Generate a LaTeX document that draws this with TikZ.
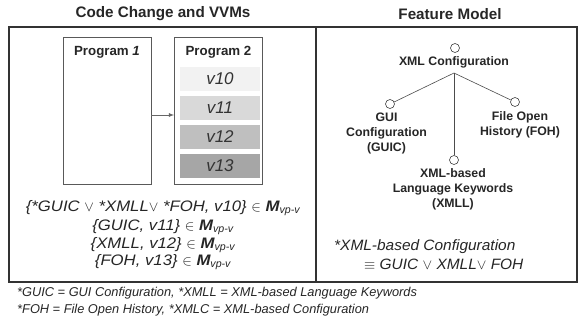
\documentclass[tikz,border=0pt]{standalone}
\usepackage{fontspec}
\setmainfont{Liberation Sans}
\begin{document}
\begin{tikzpicture}[x=1pt,y=-1pt,
  title/.style={font=\fontsize{15.2}{17}\selectfont\bfseries, text=black!85, inner sep=0},
  panel/.style={draw=black!80, line width=1.6pt},
  progbox/.style={draw=black!65, line width=0.8pt, minimum width=88pt, minimum height=147pt, inner sep=0},
  progtitle/.style={font=\fontsize{13.3}{16}\selectfont\bfseries, text=black!85, inner sep=0},
  vbox/.style={minimum width=80pt, minimum height=24pt, inner sep=0, font=\fontsize{17}{19}\selectfont\itshape, text=black!80},
  arr/.style={->, >=latex, draw=black!60, line width=0.8pt},
  formula/.style={font=\fontsize{15.2}{18}\selectfont\addfontfeature{FakeStretch=1.1}\itshape, text=black!85, inner sep=0, anchor=base},
  xform/.style={font=\fontsize{15}{18}\selectfont\addfontfeature{FakeStretch=1.03}\itshape, text=black!85, inner sep=0, anchor=base west},
  feat/.style={circle, draw=black!75, line width=0.6pt, minimum size=9pt, inner sep=0},
  flabel/.style={font=\fontsize{12.3}{15}\selectfont\bfseries, text=black!85, inner sep=0, align=center},
  fline/.style={draw=black!70, line width=0.6pt},
  note/.style={font=\fontsize{12.8}{15}\selectfont\itshape, text=black!85, inner sep=0, anchor=west}
]
\useasboundingbox (0,0) rectangle (582,322);
\fill[white] (0,0) rectangle (582,322);

% titles
\node[title] (t1) at (163,14) {Code Change and VVMs};
\node[title] (t2) at (450,14) {Feature Model};

% panels
\draw[panel] (9,27) rectangle (577,282);
\draw[panel] (316,27) -- (316,282);

% programs
\node[progbox] (p1) at (107,110.5) {};
\node[progbox] (p2) at (218.5,110.5) {};
\node[progtitle] (p1t) at (107,52) {Program \textit{1}};
\node[progtitle] (p2t) at (218.5,52) {Program 2};
\node[vbox, fill=black!5]  (v10) at (220,79) {v10};
\node[vbox, fill=black!15] (v11) at (220,108) {v11};
\node[vbox, fill=black!25] (v12) at (220,137) {v12};
\node[vbox, fill=black!35] (v13) at (220,165.5) {v13};
\draw[arr] ([yshift=-4.5pt]p1.east) -- ([yshift=-4.5pt]p2.west);

% formulas
\newcommand{\Mvp}{\textbf{\textit{M}}\textsubscript{\normalfont\itshape vp-v}}
\node[formula] (f1) at (163,211.5) {\{*GUIC $\vee$ *XMLL$\vee$ *FOH, v10\} $\in$ \Mvp};
\node[formula] (f2) at (163,230) {\{GUIC, v11\} $\in$ \Mvp};
\node[formula] (f3) at (163,248) {\{XMLL, v12\} $\in$ \Mvp};
\node[formula] (f4) at (163,265.5) {\{FOH, v13\} $\in$ \Mvp};

% feature model
\node[feat] (root) at (455,48) {};
\node[flabel] (rootl) at (454,62) {XML Configuration};
\node[feat] (guic) at (390,104) {};
\node[flabel] (guicl) at (386.5,133) {GUI\\Configuration\\(GUIC)};
\node[feat] (foh) at (515,102) {};
\node[flabel] (fohl) at (520,124.5) {File Open\\History (FOH)};
\node[feat] (xmll) at (454,160) {};
\node[flabel] (xmlll) at (453,189.5) {XML-based\\Language Keywords\\(XMLL)};
\coordinate (hub) at (454,73);
\draw[fline] (hub) -- (guic);
\draw[fline] (hub) -- (foh);
\draw[fline] (hub) -- (xmll);

\node[xform] (xc1) at (334,250) {*XML-based Configuration};
\node[xform] (xc2) at (364,269.3) {$\equiv$ GUIC $\vee$ XMLL$\vee$ FOH};

% notes
\node[note] (n1) at (17,293) {*GUIC = GUI Configuration, *XMLL = XML-based Language Keywords};
\node[note] (n2) at (17,310) {*FOH = File Open History, *XMLC = XML-based Configuration};
\end{tikzpicture}
\end{document}
